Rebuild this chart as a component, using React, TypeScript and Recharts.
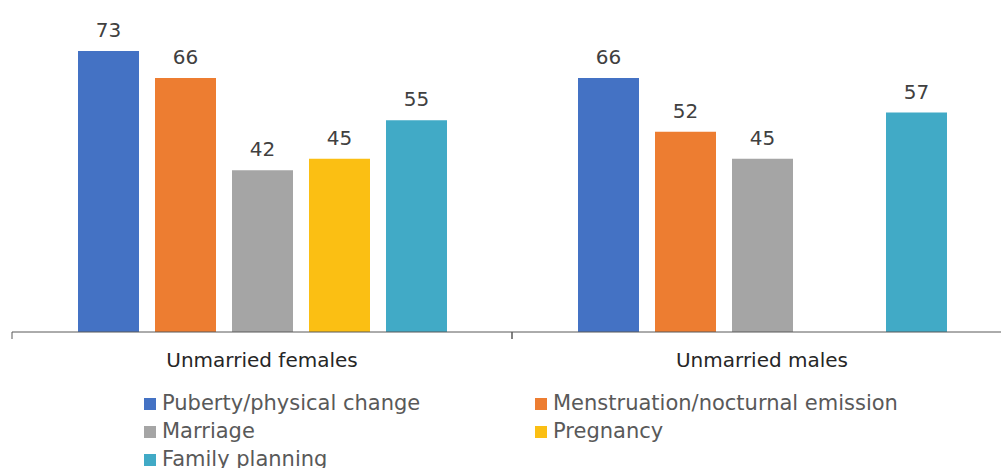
import React from "react";
import { BarChart, Bar, XAxis, YAxis, Legend, LabelList } from "recharts";

// categories and series values
const groups = ["Unmarried females", "Unmarried males"];
const puberty = [73, 66];
const menstruation = [66, 52];
const marriage = [42, 45];
const pregnancy = [45, null];
const familyPlanning = [55, 57];

const series = [
  { key: "puberty", name: "Puberty/physical change", color: "#4472C4", values: puberty },
  { key: "menstruation", name: "Menstruation/nocturnal emission", color: "#ED7D31", values: menstruation },
  { key: "marriage", name: "Marriage", color: "#A5A5A5", values: marriage },
  { key: "pregnancy", name: "Pregnancy", color: "#FBBF13", values: pregnancy },
  { key: "familyPlanning", name: "Family planning", color: "#41AAC6", values: familyPlanning },
];

const data = groups.map((g, i) => {
  const row: Record<string, string | number | null> = { name: g };
  series.forEach((s) => {
    row[s.key] = s.values[i];
  });
  return row;
});

const FONT = "'DejaVu Sans', sans-serif";
const TICK_MARGIN = 21;

// category label plus Excel-style tick marks on the category boundaries
const GroupTick = (props: any) => {
  const { x, y, payload } = props;
  const axisY = y - TICK_MARGIN;
  const half = payload.offset || 0;
  return (
    <g>
      <line x1={x - half} y1={axisY} x2={x - half} y2={axisY + 7} stroke="#595959" />
      <line x1={x + half} y1={axisY} x2={x + half} y2={axisY + 7} stroke="#595959" />
      <text x={x} y={y} dy="0.71em" textAnchor="middle" fill="#262626" fontSize={20} fontFamily={FONT}>
        {payload.value}
      </text>
    </g>
  );
};

const LegendBox = () => (
  <div
    style={{
      display: "grid",
      gridTemplateColumns: "391px 420px",
      fontFamily: FONT,
      fontSize: 21,
      lineHeight: "28px",
      color: "#595959",
      whiteSpace: "nowrap",
    }}
  >
    {series.map((s) => (
      <div key={s.key}>
        <span
          style={{
            display: "inline-block",
            width: 12,
            height: 12,
            background: s.color,
            marginRight: 6,
          }}
        />
        {s.name}
      </div>
    ))}
  </div>
);

export default function App() {
  return (
    <div
      style={{
        position: "absolute",
        left: 0,
        top: 0,
        width: 1001,
        height: 468,
        overflow: "hidden",
        background: "#fff",
      }}
    >
      <BarChart
        width={1013}
        height={468}
        data={data}
        margin={{ top: 24, right: 1, left: 12, bottom: 96 }}
        barSize={61}
        barGap={16}
      >
        <XAxis
          dataKey="name"
          height={40}
          stroke="#595959"
          tickLine={false}
          tickSize={0}
          tickMargin={TICK_MARGIN}
          tick={<GroupTick />}
          interval={0}
        />
        <YAxis hide domain={[0, 80]} />
        <Legend
          verticalAlign="middle"
          layout="horizontal"
          content={<LegendBox />}
          wrapperStyle={{ top: 389, left: 144, width: 830 }}
        />
        {series.map((s) => (
          <Bar key={s.key} dataKey={s.key} name={s.name} fill={s.color} isAnimationActive={false}>
            <LabelList
              dataKey={s.key}
              position="top"
              offset={14}
              fill="#404040"
              fontSize={20}
              fontFamily={FONT}
            />
          </Bar>
        ))}
      </BarChart>
    </div>
  );
}
